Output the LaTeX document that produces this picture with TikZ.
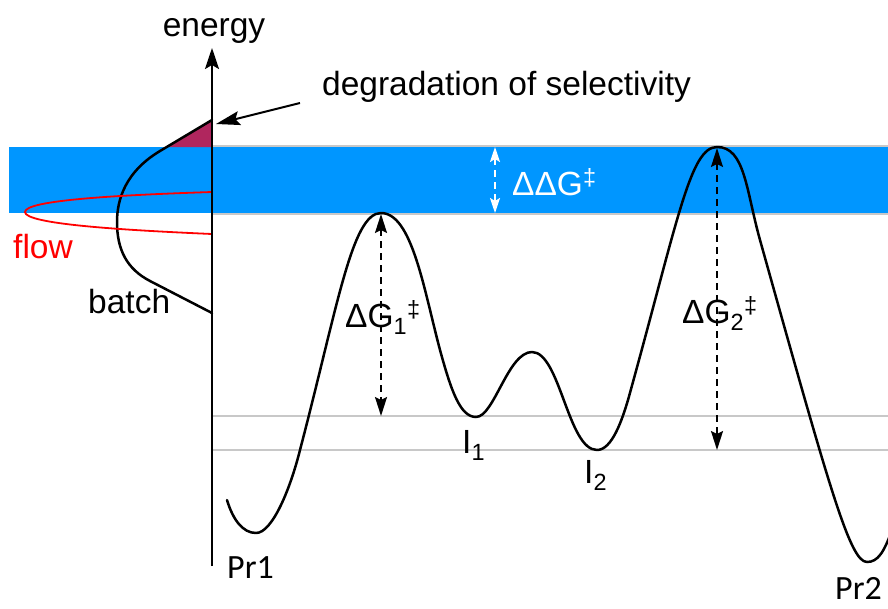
\documentclass[tikz,border=0pt]{standalone}
\usepackage{fontspec}
\setmainfont{Liberation Sans}
\newfontfamily\prfont{Carlito}
\usetikzlibrary{arrows.meta}

\begin{document}
\begin{tikzpicture}[x=1pt, y=-1pt,
  lbl/.style={inner sep=0pt, anchor=base west, font=\fontsize{33.5}{40}\selectfont},
  lvlline/.style={draw=lvlgray, line width=2pt},
  curve/.style={line width=2.5pt, line join=round, line cap=round},
  dgarrow/.style={line width=2pt, dash pattern=on 7pt off 5pt,
    {Stealth[length=19pt,width=12pt,inset=3pt]}-{Stealth[length=19pt,width=12pt,inset=3pt]}}]
  % Define colors
  \definecolor{bandblue}{HTML}{0096FF}
  \definecolor{lvlgray}{HTML}{C8C8C8}
  \definecolor{losspurple}{HTML}{B0265E}
  \definecolor{flowred}{HTML}{FF0000}

  \useasboundingbox (0,0) rectangle (888,608);

  % Band of the selectivity window
  \fill[bandblue] (9,147) rectangle (888,213);

  % Energy levels
  \draw[lvlline] (212,146) -- (888,146);
  \draw[lvlline] (212,214) -- (888,214);
  \draw[lvlline] (212,416) -- (888,416);
  \draw[lvlline] (212,450) -- (888,450);

  % Distributions
  \fill[losspurple] (212,120) -- (212,147) -- (166,147) -- cycle;
  \draw[curve] (212,120) -- (160,151) .. controls (125,172) and (117,200) .. (117,222)
    .. controls (117,250) and (127,269) .. (150,281) -- (212,313);
  \draw[flowred, line width=1.8pt] (212,192) .. controls (120,195) and (25,200) .. (25,212)
    .. controls (25,224) and (120,230) .. (212,234);

  % Energy axis
  \coordinate (axisbot) at (212,566);
  \coordinate (axistop) at (212,48);
  \draw[line width=2.2pt, -{Stealth[length=21pt,width=14pt,inset=4pt]}] (axisbot) -- (axistop);
  \node[lbl, anchor=base] (energy) at (214,36) {energy};

  % Reaction profile
  \draw[curve] (227,500) .. controls (233,520) and (243,533) .. (256,533)
    .. controls (272,533) and (290,490) .. (300,450)
    .. controls (338,305) and (352,213) .. (381,213)
    .. controls (412,213) and (424,290) .. (440,350)
    .. controls (451,390) and (460,417) .. (476,417)
    .. controls (494,417) and (508,352) .. (532,352)
    .. controls (560,352) and (568,450) .. (597,450)
    .. controls (612,450) and (622,420) .. (628,400)
    .. controls (678,220) and (690,147) .. (717,147)
    .. controls (745,147) and (746,190) .. (760,240)
    .. controls (830,490) and (850,562) .. (867,562)
    .. controls (878,562) and (884,552) .. (892,530);

  % Barriers
  \coordinate (ts1) at (381,214);
  \coordinate (lvl1) at (381,416);
  \coordinate (ts2) at (717,148);
  \coordinate (lvl2) at (717,450);
  \coordinate (ddgtop) at (495,147);
  \coordinate (ddgbot) at (495,213);
  \draw[dgarrow] (ts1) -- (lvl1);
  \draw[dgarrow] (ts2) -- (lvl2);
  \draw[dgarrow, white, {Stealth[length=15pt,width=10pt,inset=3pt]}-{Stealth[length=15pt,width=10pt,inset=3pt]}] (ddgtop) -- (ddgbot);

  % Labels
  \node[lbl] (degr) at (322,95) {degradation of selectivity};
  \coordinate (degrfrom) at (300,103);
  \coordinate (degrto) at (216,124);
  \draw[line width=2pt, -{Stealth[length=24pt,width=14pt,inset=4pt]}] (degrfrom) -- (degrto);
  \node[lbl, text=flowred] (flow) at (13,258) {flow};
  \node[lbl] (batch) at (88,313) {batch};
  \node[lbl, text=white] (ddg) at (512,195) {ΔΔG\textsuperscript{‡}};
  \node[lbl] (dg1) at (345,327) {ΔG\textsubscript{1}\textsuperscript{‡}};
  \node[lbl] (dg2) at (682,323) {ΔG\textsubscript{2}\textsuperscript{‡}};
  \node[lbl] (int1) at (462,453) {I\textsubscript{1}};
  \node[lbl] (int2) at (584,483) {I\textsubscript{2}};
  \node[lbl, font=\prfont\fontsize{34}{40}\selectfont] (pr1) at (227,578) {Pr1};
  \node[lbl, font=\prfont\fontsize{34}{40}\selectfont] (pr2) at (835,599) {Pr2};
\end{tikzpicture}
\end{document}
